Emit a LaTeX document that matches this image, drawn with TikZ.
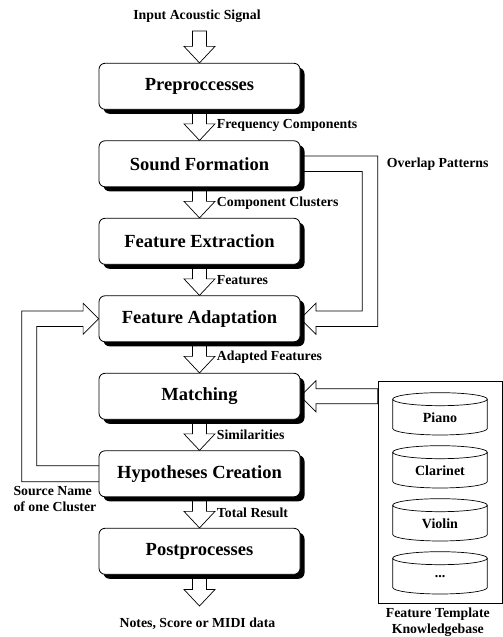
\documentclass[tikz,border=0pt]{standalone}
\usepackage{fontspec}
\setmainfont{Liberation Serif}
\usetikzlibrary{calc,shadows,backgrounds}
\newcommand\dnarrow[2]{%
  \path[harrow] let \p1=(#1), \p2=(#2) in
    (\x2-7,\y1) -- (\x2-7,\y2+16.5) -- (\x2-15.5,\y2+16.5) -- (\x2,\y2)
    -- (\x2+15.5,\y2+16.5) -- (\x2+7,\y2+16.5) -- (\x2+7,\y1) -- cycle;}
\newcommand\cylshape[3]{%
  \draw[cylline, fill=white] (392.7,#1-6.5) -- (392.7,#1-35.8)
    arc[start angle=180,end angle=360,x radius=47.3,y radius=6.5]
    -- (487.3,#1-6.5)
    arc[start angle=0,end angle=180,x radius=47.3,y radius=6.5];
  \draw[cylline] (392.7,#1-6.5) arc[start angle=180,end angle=360,x radius=47.3,y radius=6.5];
  \node[cyllab] (#2) at (440,#1-25) {#3};}
\begin{document}
\begin{tikzpicture}[x=1pt,y=1pt,
  box/.style={draw, line width=0.8pt, rounded corners=6pt, fill=white,
    minimum width=201pt, minimum height=46pt, inner sep=0pt,
    font=\fontsize{18.5}{20}\selectfont\bfseries,
    drop shadow={shadow xshift=4.5pt, shadow yshift=-4.5pt, fill=black, opacity=1}},
  lab/.style={font=\fontsize{13.8}{15.7}\selectfont\bfseries, inner sep=0pt},
  cyllab/.style={font=\fontsize{14}{16}\selectfont\bfseries, inner sep=0pt},
  cylline/.style={line width=0.7pt},
  harrow/.style={draw, fill=white, line width=0.7pt, line join=miter},
  ]
\useasboundingbox (0,0) rectangle (503,637);

% main boxes
\node[box] (pp) at (199.5,550.7) {Preproccesses};
\node[box] (sf) at (199.5,473.2) {Sound Formation};
\node[box] (fe) at (199.5,395.7) {Feature Extraction};
\node[box] (fa) at (199.5,318.2) {Feature Adaptation};
\node[box] (ma) at (199.5,240.7) {Matching};
\node[box] (hc) at (199.5,163.2) {Hypotheses Creation};
\node[box] (po) at (199.5,85.7) {Postprocesses};

% input / output
\node[lab] (inp) at (197,620.3) {Input Acoustic Signal};
\coordinate (inbase) at (199.5,606);
\node[lab] (outp) at (197.5,13.7) {Notes, Score or MIDI data};
\coordinate (outtip) at (199.5,31);

% edge labels
\node[lab, anchor=west] (l1) at (216.7,512) {Frequency Components};
\node[lab, anchor=west] (l2) at (216.7,434.3) {Component Clusters};
\node[lab, anchor=west] (l3) at (216.7,357) {Features};
\node[lab, anchor=west] (l4) at (216.7,279.7) {Adapted Features};
\node[lab, anchor=west] (l5) at (216.7,202) {Similarities};
\node[lab, anchor=west] (l6) at (216.7,124.3) {Total Result};
\node[lab, anchor=west] (ol) at (386.7,473) {Overlap Patterns};
\node[lab, anchor=west, align=left] (src) at (13.3,138.3) {Source Name\\of one Cluster};

% knowledge base
\node[draw, line width=0.8pt, minimum width=124pt, minimum height=221.8pt, inner sep=0pt] (kb) at (440,144.4) {};
\node[lab, align=center] (kbl) at (437.8,15) {Feature Template\\Knowledgebase};
\cylshape{244.3}{piano}{Piano}
\cylshape{191.3}{clar}{Clarinet}
\cylshape{138.3}{viol}{Violin}
\cylshape{85.3}{more}{...}

\begin{scope}[on background layer]
\fill[white] (0,0) rectangle (503,637);
\dnarrow{inbase}{pp.north}
\dnarrow{pp.south}{sf.north}
\dnarrow{sf.south}{fe.north}
\dnarrow{fe.south}{fa.north}
\dnarrow{fa.south}{ma.north}
\dnarrow{ma.south}{hc.north}
\dnarrow{hc.south}{po.north}
\dnarrow{po.south}{outtip}
% overlap patterns feedback
\path[harrow] let \p1=(sf.east), \p2=(fa.east) in
  (\x1-5,\y1+7.7) -- (377.7,\y1+7.7) -- (377.7,\y2-7.7) -- (\x2+15.5,\y2-7.7)
  -- (\x2+15.5,\y2-15.5) -- (\x2,\y2) -- (\x2+15.5,\y2+15.5) -- (\x2+15.5,\y2+7.7)
  -- (362.3,\y2+7.7) -- (362.3,\y1-7.7) -- (\x1-5,\y1-7.7) -- cycle;
% source name feedback
\path[harrow] let \p1=(hc.west), \p2=(fa.west) in
  (\x1+5,\y1+8) -- (36.7,\y1+8) -- (36.7,\y2-7.7) -- (\x2-15.5,\y2-7.7)
  -- (\x2-15.5,\y2-15.5) -- (\x2,\y2) -- (\x2-15.5,\y2+15.5) -- (\x2-15.5,\y2+7.7)
  -- (21.7,\y2+7.7) -- (21.7,\y1-8) -- (\x1+5,\y1-8) -- cycle;
% knowledgebase to matching
\path[harrow] let \p1=(kb.west), \p2=(ma.east) in
  (\x1,\y2+7.5) -- (\x2+15.5,\y2+7.5) -- (\x2+15.5,\y2+15.5) -- (\x2,\y2)
  -- (\x2+15.5,\y2-15.5) -- (\x2+15.5,\y2-7.5) -- (\x1,\y2-7.5) -- cycle;
\end{scope}
\end{tikzpicture}
\end{document}
